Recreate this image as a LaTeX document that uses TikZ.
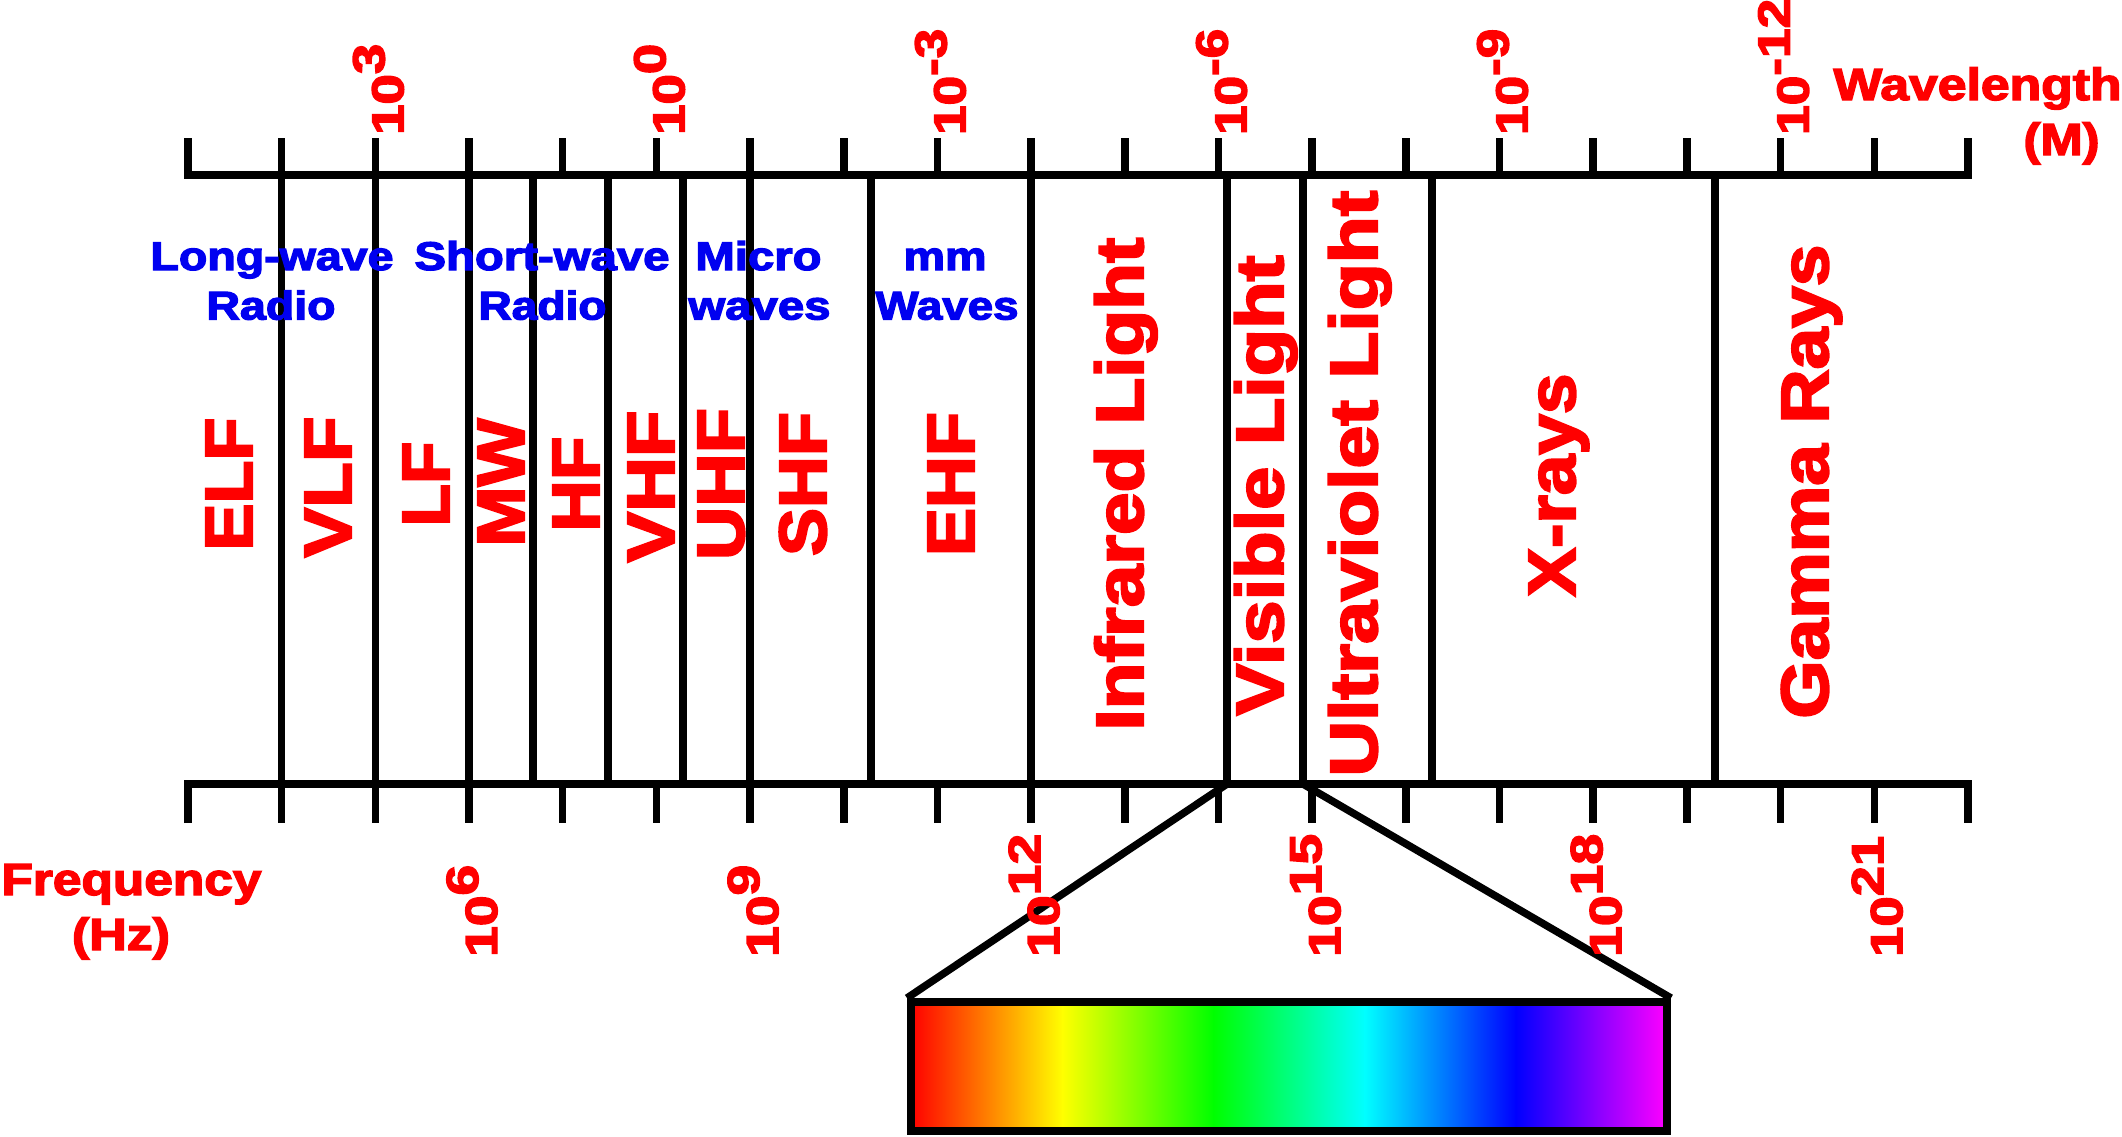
\documentclass[tikz,border=0pt]{standalone}
\usepackage{fontspec}
\usepackage{graphicx}
\newfontfamily\hvb{Liberation Sans Bold}[FakeBold=3]
\definecolor{lblred}{RGB}{255,0,0}
\definecolor{lblblue}{RGB}{0,0,240}
\definecolor{spR}{RGB}{255,0,0}
\definecolor{spY}{RGB}{255,255,0}
\definecolor{spG}{RGB}{0,255,0}
\definecolor{spC}{RGB}{0,255,255}
\definecolor{spB}{RGB}{0,0,255}
\definecolor{spM}{RGB}{255,0,255}
\begin{document}
\begin{tikzpicture}[x=1pt,y=-1pt,
  ln/.style={line width=7.5pt},
  band/.style={text=lblred, rotate=90, anchor=base, inner sep=0pt, font=\hvb\fontsize{67}{70}\selectfont},
  expo/.style={text=lblred, rotate=90, anchor=base west, inner sep=0pt, font=\hvb\fontsize{45}{50}\selectfont},
  axtitle/.style={text=lblred, anchor=base, inner sep=0pt, font=\hvb\fontsize{45}{50}\selectfont},
  blab/.style={text=lblblue, anchor=base, inner sep=0pt, font=\hvb\fontsize{40}{45}\selectfont}]
\useasboundingbox (0,0) rectangle (2122,1136);
% axes
\draw[ln] (188,138) -- (188,175) -- (1968,175) -- (1968,138);
\foreach \i in {1,...,18} \draw[ln] ({188+93.68*\i},138) -- ({188+93.68*\i},175);
\draw[ln] (188,823) -- (188,784) -- (1968,784) -- (1968,823);
\foreach \i in {1,...,18} \draw[ln] ({188+93.68*\i},784) -- ({188+93.68*\i},823);
% dividers
\foreach \x in {281.7,375.4,469,533,608,683,750,871,1031,1227,1303,1432,1715}
  \draw[ln] (\x,175) -- (\x,784);
\coordinate (visL) at (1227,784);
\coordinate (visR) at (1303,784);
% spectrum bar
\shade[left color=spR, right color=spY] (911,1002) rectangle (1062.7,1131);
\shade[left color=spY, right color=spG] (1062.2,1002) rectangle (1213.9,1131);
\shade[left color=spG, right color=spC] (1213.4,1002) rectangle (1365.1,1131);
\shade[left color=spC, right color=spB] (1364.6,1002) rectangle (1516.3,1131);
\shade[left color=spB, right color=spM] (1515.8,1002) rectangle (1667,1131);
\node[draw, line width=8pt, minimum width=756pt, minimum height=129pt, inner sep=0pt] (bar) at (1289,1066.5) {};
\draw[ln] (visL) -- (bar.north west);
\draw[ln] (visR) -- (bar.north east);
% band labels
\node[band] (elf) at (252,484) {\resizebox{133pt}{\height}{ELF}};
\node[band] (vlf) at (351,487) {\resizebox{141pt}{\height}{VLF}};
\node[band] (lf) at (449,484) {\resizebox{85pt}{\height}{LF}};
\node[band] (mw) at (524,482.5) {\resizebox{128pt}{\height}{MW}};
\node[band] (hf) at (599,484) {\resizebox{95pt}{\height}{HF}};
\node[band] (vhf) at (674,486.5) {\resizebox{152pt}{\height}{VHF}};
\node[band] (uhf) at (744,484) {\resizebox{152pt}{\height}{UHF}};
\node[band] (shf) at (826,484) {\resizebox{144pt}{\height}{SHF}};
\node[band] (ehf) at (974,484) {\resizebox{144pt}{\height}{EHF}};
\node[band] (ir) at (1143,484) {\resizebox{493pt}{\height}{Infrared Light}};
\node[band] (vis) at (1283,485.5) {\resizebox{460pt}{\height}{Visible Light}};
\node[band] (uv) at (1377,483.5) {\resizebox{586pt}{\height}{Ultraviolet Light}};
\node[band] (xr) at (1575,485) {\resizebox{223pt}{\height}{X-rays}};
\node[band] (gr) at (1828,481.5) {\resizebox{474pt}{\height}{Gamma Rays}};
% blue labels
\node[blab] (lw1) at (272,270) {\resizebox{243pt}{\height}{Long-wave}};
\node[blab] (lw2) at (271,319.5) {\resizebox{129pt}{\height}{Radio}};
\node[blab] (sw1) at (542,270) {\resizebox{255pt}{\height}{Short-wave}};
\node[blab] (sw2) at (542.5,319.5) {\resizebox{128pt}{\height}{Radio}};
\node[blab] (mc1) at (758.5,270) {\resizebox{126pt}{\height}{Micro}};
\node[blab] (mc2) at (759.5,319.5) {\resizebox{142pt}{\height}{waves}};
\node[blab] (mm1) at (945,270) {\resizebox{83pt}{\height}{mm}};
\node[blab] (mm2) at (947,319.5) {\resizebox{143pt}{\height}{Waves}};
% axis titles
\node[axtitle] (wl1) at (1977.5,100) {\resizebox{288pt}{\height}{Wavelength}};
\node[axtitle] (wl2) at (2061.5,155) {\resizebox{76pt}{\height}{(M)}};
\node[axtitle] (fq1) at (131.5,895) {\resizebox{260pt}{\height}{Frequency}};
\node[axtitle] (fq2) at (121,950) {\resizebox{98pt}{\height}{(Hz)}};
% wavelength exponents
\node[expo] (w3) at (403.4,135) {\resizebox{91pt}{\height}{10\raisebox{19pt}{3}}};
\node[expo] (w0) at (684.4,135) {\resizebox{91pt}{\height}{10\raisebox{19pt}{0}}};
\node[expo] (wm3) at (965.4,135) {\resizebox{106pt}{\height}{10\raisebox{19pt}{-3}}};
\node[expo] (wm6) at (1246.5,135) {\resizebox{106pt}{\height}{10\raisebox{19pt}{-6}}};
\node[expo] (wm9) at (1527.5,135) {\resizebox{106pt}{\height}{10\raisebox{19pt}{-9}}};
\node[expo] (wm12) at (1808.6,135) {\resizebox{136pt}{\height}{10\raisebox{19pt}{-12}}};
% frequency exponents
\node[expo] (f6) at (497,957) {\resizebox{92pt}{\height}{10\raisebox{19pt}{6}}};
\node[expo] (f9) at (778.1,957) {\resizebox{92pt}{\height}{10\raisebox{19pt}{9}}};
\node[expo] (f12) at (1059.1,957) {\resizebox{123pt}{\height}{10\raisebox{19pt}{12}}};
\node[expo] (f15) at (1340.2,957) {\resizebox{123pt}{\height}{10\raisebox{19pt}{15}}};
\node[expo] (f18) at (1621.2,957) {\resizebox{123pt}{\height}{10\raisebox{19pt}{18}}};
\node[expo] (f21) at (1902.2,957) {\resizebox{121pt}{\height}{10\raisebox{19pt}{21}}};
\end{tikzpicture}
\end{document}
